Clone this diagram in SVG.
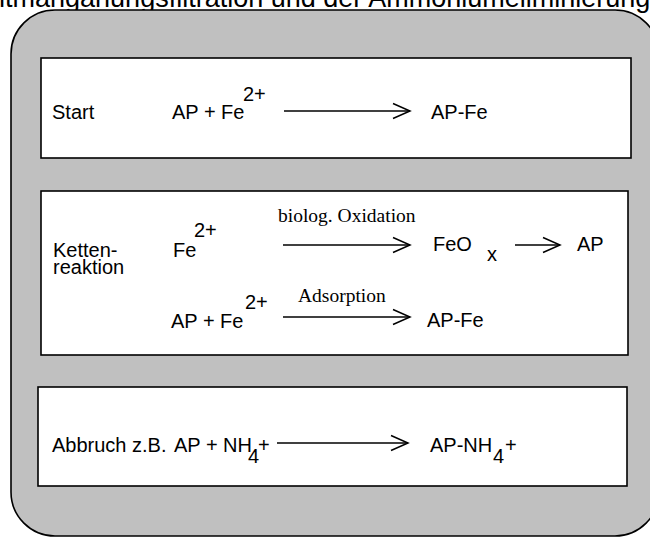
<svg xmlns="http://www.w3.org/2000/svg" width="650" height="539" viewBox="0 0 650 539">
<style>
.s{font-family:"Liberation Sans",Arial,sans-serif;font-size:20px;fill:#000;white-space:pre}
.r{font-family:"Liberation Serif","Times New Roman",serif;font-size:19.5px;fill:#000}
.t{font-family:"Liberation Sans",Arial,sans-serif;font-size:27px;fill:#000}
.box{fill:#fff;stroke:#000;stroke-width:1.6}
.ar{fill:none;stroke:#000;stroke-width:1.5;marker-end:url(#ah)}
</style>
<defs>
<marker id="ah" markerUnits="userSpaceOnUse" viewBox="-2 -2 21 20" markerWidth="21" markerHeight="20" refX="17" refY="8" orient="auto">
<path d="M0,0.5 L17,8 L0,15.5" fill="none" stroke="#000" stroke-width="1.5"/>
</marker>
</defs>
<text class="t" x="-28" y="7">Entmanganungsfiltration und der Ammoniumeliminierung</text>
<rect id="frame" x="11" y="10" width="648" height="526" rx="44" ry="44" fill="#c0c0c0" stroke="#000" stroke-width="1.6"/>
<g id="start">
<rect class="box" x="41" y="58" width="590" height="100"/>
<text class="s" x="52" y="119">Start</text>
<text class="s" x="172" y="119">AP + Fe</text>
<text class="s" x="243" y="101">2+</text>
<text class="s" x="431" y="119">AP-Fe</text>
</g>
<g id="kette">
<rect class="box" x="41" y="191" width="587" height="164"/>
<text class="s" x="53" y="257">Ketten-</text>
<text class="s" x="53" y="274">reaktion</text>
<text class="s" x="173" y="257">Fe</text>
<text class="s" x="194" y="237">2+</text>
<text class="r" x="278" y="222">biolog. Oxidation</text>
<text class="s" x="433" y="251">FeO</text>
<text class="s" x="487" y="261">x</text>
<text class="s" x="577" y="251">AP</text>
<text class="r" x="298" y="302">Adsorption</text>
<text class="s" x="171" y="328">AP + Fe</text>
<text class="s" x="245" y="309">2+</text>
<text class="s" x="427" y="327">AP-Fe</text>
</g>
<g id="abbruch">
<rect class="box" x="38" y="387" width="589" height="99"/>
<text class="s" x="52" y="452">Abbruch z.B.</text>
<text class="s" x="174" y="452">AP + NH</text>
<text class="s" x="248" y="463">4</text>
<text class="s" x="258" y="452">+</text>
<text class="s" x="430" y="452">AP-NH</text>
<text class="s" x="493" y="463">4</text>
<text class="s" x="505" y="452">+</text>
</g>
<g id="connectors">
<line class="ar" x1="284" y1="111" x2="410" y2="111"/>
<line class="ar" x1="283" y1="245" x2="410" y2="245"/>
<line class="ar" x1="515" y1="245" x2="560" y2="245"/>
<line class="ar" x1="283" y1="317" x2="410" y2="317"/>
<line class="ar" x1="277" y1="443" x2="408" y2="443"/>
</g>
</svg>
